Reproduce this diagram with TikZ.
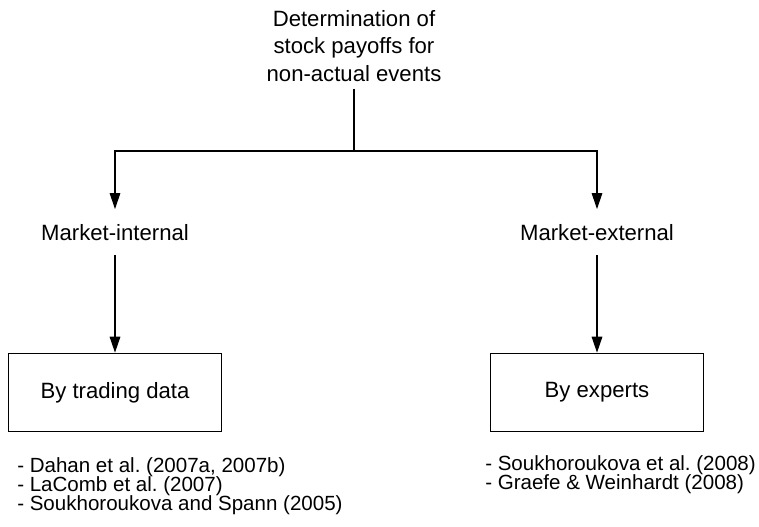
\documentclass[tikz,border=0pt]{standalone}
\usepackage{fontspec}
\setmainfont{Liberation Sans}
\usetikzlibrary{arrows.meta}
\frenchspacing
\newcommand{\refsfont}{\fontsize{15.4}{14.5}\selectfont\setlength{\lineskiplimit}{-100pt}}

\begin{document}
\begin{tikzpicture}[x=0.75pt, y=-0.75pt,
        branch/.style={font=\fontsize{16.6}{20.6}\selectfont, inner xsep=0pt, inner ysep=11pt},
        method/.style={draw=black, line width=0.8pt, minimum width=160pt, minimum height=59pt, font=\fontsize{16.6}{20.6}\selectfont},
        refs/.style={align=left, anchor=north west, inner sep=0pt, font=\refsfont},
        link/.style={line width=0.8pt, -{Triangle[length=12pt, width=8pt]}}]
        \useasboundingbox (0,0) rectangle (759,526);

        \node[branch, align=center, anchor=north, inner ysep=5pt] (top) at (354,3.5) {Determination of\\stock payoffs for\\non-actual events};
        \coordinate (split) at (354,151);

        \node[branch, anchor=base] (int) at (115,240) {Market-internal};
        \node[branch, anchor=base] (ext) at (597,240) {Market-external};

        \node[method] (trade) at (115,392.5) {By trading data};
        \node[method] (expert) at (597,392.5) {By experts};

        \node[refs] (tradeRefs) at (17,457) {- Dahan et al. (2007a, 2007b)\\- LaComb et al. (2007)\\- Soukhoroukova and Spann (2005)};
        \node[refs] (expertRefs) at (485,455) {- Soukhoroukova et al. (2008)\\- Graefe \& Weinhardt (2008)};

        \draw [line width=0.8pt] (top) -- (split);
        \draw [link] (split) -| (int);
        \draw [link] (split) -| (ext);

        \draw [link] (int) -- (trade);
        \draw [link] (ext) -- (expert);
    \end{tikzpicture}
\end{document}
